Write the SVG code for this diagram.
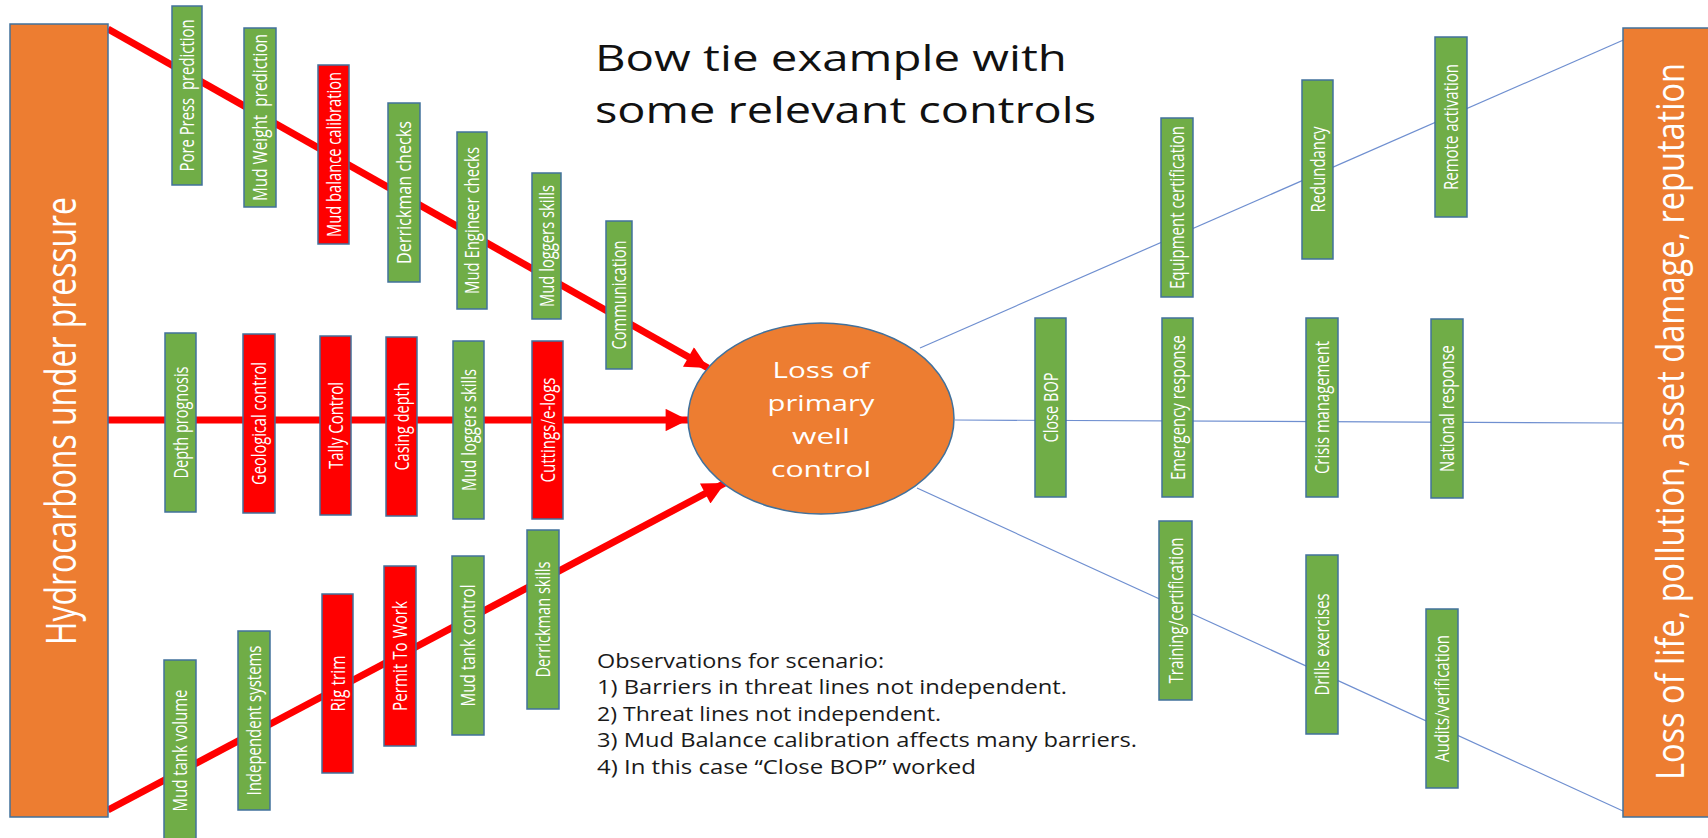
<svg xmlns="http://www.w3.org/2000/svg" width="1708" height="838" viewBox="0 0 1708 838">
  <defs>
    <style>
      .bg { fill: #ffffff; }
      .big { fill: #ED7D31; stroke: #41719C; stroke-width: 1.5; }
      .ctl-g { fill: #70AD47; stroke: #41719C; stroke-width: 1.5; }
      .ctl-r { fill: #FF0000; stroke: #41719C; stroke-width: 1.5; }
      .threat-line { stroke: #FF0000; stroke-width: 7; fill: none; }
      .conseq-line { stroke: #6F8FD0; stroke-width: 1.2; fill: none; }
      .lbl { font-family: "Open Sans", "Noto Sans", sans-serif; font-size: 15px; fill: #ffffff; }
      .hdr { font-family: "Open Sans", "Noto Sans", sans-serif; fill: #ffffff; }
      .title { font-family: "Open Sans", "Noto Sans", sans-serif; font-size: 36.5px; fill: #111111; }
      .note { font-family: "Open Sans", "Noto Sans", sans-serif; font-size: 19.7px; fill: #1a1a1a; }
      .evt { font-family: "Open Sans", "Noto Sans", sans-serif; font-size: 22.5px; fill: #ffffff; text-anchor: middle; }
    </style>
    <marker id="arrow" viewBox="0 0 10 10" refX="10" refY="5" markerWidth="3.8" markerHeight="3.2" orient="auto" markerUnits="strokeWidth">
      <path d="M0,0 L10,5 L0,10 Z" fill="#FF0000"/>
    </marker>
  </defs>

  <rect class="bg" x="0" y="0" width="1708" height="838"/>

  <!-- connectors: threat lines (red) and consequence lines (blue) -->
  <g id="connectors">
    <line class="threat-line" x1="108" y1="29" x2="708" y2="368" marker-end="url(#arrow)"/>
    <line class="threat-line" x1="108" y1="420" x2="688" y2="420" marker-end="url(#arrow)"/>
    <line class="threat-line" x1="108" y1="810" x2="725" y2="483" marker-end="url(#arrow)"/>
    <line class="conseq-line" x1="920" y1="348" x2="1628" y2="38"/>
    <line class="conseq-line" x1="955" y1="420" x2="1623" y2="423"/>
    <line class="conseq-line" x1="917" y1="488" x2="1623" y2="811"/>
  </g>

  <!-- hazard source -->
  <g id="hazard">
    <rect class="big" x="10" y="24" width="98" height="793"/>
    <text class="hdr" font-size="32.3" transform="translate(76,421) rotate(-90) scale(1,1.3)" x="-224" y="0" textLength="448" lengthAdjust="spacingAndGlyphs">Hydrocarbons under pressure</text>
  </g>

  <!-- consequence -->
  <g id="consequence">
    <rect class="big" x="1623" y="28" width="86" height="789"/>
    <text class="hdr" font-size="32.6" transform="translate(1684,421.5) rotate(-90) scale(1,1.16)" x="-358.5" y="0" textLength="717" lengthAdjust="spacingAndGlyphs">Loss of life, pollution, asset damage, reputation</text>
  </g>

  <!-- top event -->
  <g id="top-event">
    <ellipse class="big" cx="821" cy="418.5" rx="133" ry="95.5"/>
    <text class="evt" transform="translate(821,378) scale(1.32,1)" textLength="73.5" lengthAdjust="spacingAndGlyphs">Loss of</text>
    <text class="evt" transform="translate(821,411) scale(1.32,1)" textLength="81" lengthAdjust="spacingAndGlyphs">primary</text>
    <text class="evt" transform="translate(821,444) scale(1.32,1)" textLength="44" lengthAdjust="spacingAndGlyphs">well</text>
    <text class="evt" transform="translate(821,477) scale(1.32,1)" textLength="75.8" lengthAdjust="spacingAndGlyphs">control</text>
  </g>

  <!-- title -->
  <g id="title">
    <text class="title" transform="translate(595,71) scale(1.3,1)" textLength="363" lengthAdjust="spacingAndGlyphs">Bow tie example with</text>
    <text class="title" transform="translate(595,123) scale(1.3,1)" textLength="385.4" lengthAdjust="spacingAndGlyphs">some relevant controls</text>
  </g>

  <!-- threat line 1 barriers -->
  <g id="c-pore-press">
    <rect class="ctl-g" x="172" y="6" width="30" height="179"/>
    <text class="lbl" transform="translate(194,95.5) rotate(-90) scale(1,1.3)" x="-76" textLength="152" lengthAdjust="spacingAndGlyphs">Pore Press&#160; prediction</text>
  </g>
  <g id="c-mud-weight">
    <rect class="ctl-g" x="244" y="28" width="32" height="179"/>
    <text class="lbl" transform="translate(267,117.5) rotate(-90) scale(1,1.3)" x="-83.5" textLength="167" lengthAdjust="spacingAndGlyphs">Mud Weight&#160; prediction</text>
  </g>
  <g id="c-mud-balance">
    <rect class="ctl-r" x="318" y="65" width="31" height="179"/>
    <text class="lbl" transform="translate(340.5,154.5) rotate(-90) scale(1,1.3)" x="-82.5" textLength="165" lengthAdjust="spacingAndGlyphs">Mud balance calibration</text>
  </g>
  <g id="c-derrickman-checks">
    <rect class="ctl-g" x="388" y="103" width="32" height="179"/>
    <text class="lbl" transform="translate(411,192.5) rotate(-90) scale(1,1.3)" x="-71.5" textLength="143" lengthAdjust="spacingAndGlyphs">Derrickman checks</text>
  </g>
  <g id="c-mud-engineer">
    <rect class="ctl-g" x="457" y="132" width="30" height="177"/>
    <text class="lbl" transform="translate(479,220.5) rotate(-90) scale(1,1.3)" x="-73.5" textLength="147" lengthAdjust="spacingAndGlyphs">Mud Engineer checks</text>
  </g>
  <g id="c-mud-loggers-1">
    <rect class="ctl-g" x="532" y="173" width="29" height="146"/>
    <text class="lbl" transform="translate(553.5,246) rotate(-90) scale(1,1.3)" x="-61" textLength="122" lengthAdjust="spacingAndGlyphs">Mud loggers skills</text>
  </g>
  <g id="c-communication">
    <rect class="ctl-g" x="606" y="221" width="26" height="148"/>
    <text class="lbl" transform="translate(626,295) rotate(-90) scale(1,1.3)" x="-54.5" textLength="109" lengthAdjust="spacingAndGlyphs">Communication</text>
  </g>

  <!-- threat line 2 barriers -->
  <g id="c-depth-prognosis">
    <rect class="ctl-g" x="165" y="333" width="31" height="179"/>
    <text class="lbl" transform="translate(187.5,422.5) rotate(-90) scale(1,1.3)" x="-56" textLength="112" lengthAdjust="spacingAndGlyphs">Depth prognosis</text>
  </g>
  <g id="c-geological">
    <rect class="ctl-r" x="243" y="334" width="32" height="179"/>
    <text class="lbl" transform="translate(266,423.5) rotate(-90) scale(1,1.3)" x="-61.5" textLength="123" lengthAdjust="spacingAndGlyphs">Geological control</text>
  </g>
  <g id="c-tally">
    <rect class="ctl-r" x="320" y="336" width="31" height="179"/>
    <text class="lbl" transform="translate(342.5,425.5) rotate(-90) scale(1,1.3)" x="-43.5" textLength="87" lengthAdjust="spacingAndGlyphs">Tally Control</text>
  </g>
  <g id="c-casing">
    <rect class="ctl-r" x="386" y="337" width="31" height="179"/>
    <text class="lbl" transform="translate(408.5,426.5) rotate(-90) scale(1,1.3)" x="-44" textLength="88" lengthAdjust="spacingAndGlyphs">Casing depth</text>
  </g>
  <g id="c-mud-loggers-2">
    <rect class="ctl-g" x="453" y="341" width="31" height="178"/>
    <text class="lbl" transform="translate(475.5,430) rotate(-90) scale(1,1.3)" x="-61" textLength="122" lengthAdjust="spacingAndGlyphs">Mud loggers skills</text>
  </g>
  <g id="c-cuttings">
    <rect class="ctl-r" x="532" y="341" width="31" height="178"/>
    <text class="lbl" transform="translate(554.5,430) rotate(-90) scale(1,1.3)" x="-52.5" textLength="105" lengthAdjust="spacingAndGlyphs">Cuttings/e-logs</text>
  </g>

  <!-- threat line 3 barriers -->
  <g id="c-mud-tank-volume">
    <rect class="ctl-g" x="164" y="660" width="32" height="180"/>
    <text class="lbl" transform="translate(187,750.5) rotate(-90) scale(1,1.3)" x="-61" textLength="122" lengthAdjust="spacingAndGlyphs">Mud tank volume</text>
  </g>
  <g id="c-independent">
    <rect class="ctl-g" x="238" y="631" width="32" height="179"/>
    <text class="lbl" transform="translate(261,720.5) rotate(-90) scale(1,1.3)" x="-75" textLength="150" lengthAdjust="spacingAndGlyphs">Independent systems</text>
  </g>
  <g id="c-rig-trim">
    <rect class="ctl-r" x="322" y="594" width="31" height="179"/>
    <text class="lbl" transform="translate(344.5,683.5) rotate(-90) scale(1,1.3)" x="-28" textLength="56" lengthAdjust="spacingAndGlyphs">Rig trim</text>
  </g>
  <g id="c-permit">
    <rect class="ctl-r" x="384" y="566" width="32" height="180"/>
    <text class="lbl" transform="translate(407,656) rotate(-90) scale(1,1.3)" x="-55" textLength="110" lengthAdjust="spacingAndGlyphs">Permit To Work</text>
  </g>
  <g id="c-mud-tank-control">
    <rect class="ctl-g" x="452" y="556" width="32" height="179"/>
    <text class="lbl" transform="translate(475,645.5) rotate(-90) scale(1,1.3)" x="-61" textLength="122" lengthAdjust="spacingAndGlyphs">Mud tank control</text>
  </g>
  <g id="c-derrickman-skills">
    <rect class="ctl-g" x="527" y="530" width="32" height="179"/>
    <text class="lbl" transform="translate(550,619.5) rotate(-90) scale(1,1.3)" x="-58" textLength="116" lengthAdjust="spacingAndGlyphs">Derrickman skills</text>
  </g>

  <!-- recovery barriers, upper line -->
  <g id="r-equipment-cert">
    <rect class="ctl-g" x="1161" y="118" width="32" height="179"/>
    <text class="lbl" transform="translate(1184,207.5) rotate(-90) scale(1,1.3)" x="-81.5" textLength="163" lengthAdjust="spacingAndGlyphs">Equipment certification</text>
  </g>
  <g id="r-redundancy">
    <rect class="ctl-g" x="1302" y="80" width="31" height="179"/>
    <text class="lbl" transform="translate(1324.5,169.5) rotate(-90) scale(1,1.3)" x="-43" textLength="86" lengthAdjust="spacingAndGlyphs">Redundancy</text>
  </g>
  <g id="r-remote">
    <rect class="ctl-g" x="1435" y="37" width="32" height="180"/>
    <text class="lbl" transform="translate(1458,127) rotate(-90) scale(1,1.3)" x="-63" textLength="126" lengthAdjust="spacingAndGlyphs">Remote activation</text>
  </g>

  <!-- recovery barriers, middle line -->
  <g id="r-close-bop">
    <rect class="ctl-g" x="1035" y="318" width="31" height="179"/>
    <text class="lbl" transform="translate(1057.5,407.5) rotate(-90) scale(1,1.3)" x="-35" textLength="70" lengthAdjust="spacingAndGlyphs">Close BOP</text>
  </g>
  <g id="r-emergency">
    <rect class="ctl-g" x="1162" y="318" width="31" height="179"/>
    <text class="lbl" transform="translate(1184.5,407.5) rotate(-90) scale(1,1.3)" x="-72.5" textLength="145" lengthAdjust="spacingAndGlyphs">Emergency response</text>
  </g>
  <g id="r-crisis">
    <rect class="ctl-g" x="1306" y="318" width="32" height="179"/>
    <text class="lbl" transform="translate(1329,407.5) rotate(-90) scale(1,1.3)" x="-66.5" textLength="133" lengthAdjust="spacingAndGlyphs">Crisis management</text>
  </g>
  <g id="r-national">
    <rect class="ctl-g" x="1431" y="319" width="32" height="179"/>
    <text class="lbl" transform="translate(1454,408.5) rotate(-90) scale(1,1.3)" x="-63.5" textLength="127" lengthAdjust="spacingAndGlyphs">National response</text>
  </g>

  <!-- recovery barriers, lower line -->
  <g id="r-training">
    <rect class="ctl-g" x="1159" y="521" width="33" height="179"/>
    <text class="lbl" transform="translate(1182.5,610.5) rotate(-90) scale(1,1.3)" x="-73" textLength="146" lengthAdjust="spacingAndGlyphs">Training/certification</text>
  </g>
  <g id="r-drills">
    <rect class="ctl-g" x="1306" y="555" width="32" height="179"/>
    <text class="lbl" transform="translate(1329,644.5) rotate(-90) scale(1,1.3)" x="-51" textLength="102" lengthAdjust="spacingAndGlyphs">Drills exercises</text>
  </g>
  <g id="r-audits">
    <rect class="ctl-g" x="1426" y="609" width="32" height="179"/>
    <text class="lbl" transform="translate(1449,698.5) rotate(-90) scale(1,1.3)" x="-63.5" textLength="127" lengthAdjust="spacingAndGlyphs">Audits/verification</text>
  </g>

  <!-- notes -->
  <g id="observations">
    <text class="note" transform="translate(597,668) scale(1.2,1)" textLength="239.2" lengthAdjust="spacingAndGlyphs">Observations for scenario:</text>
    <text class="note" transform="translate(597,694.4) scale(1.2,1)" textLength="391.7" lengthAdjust="spacingAndGlyphs">1) Barriers in threat lines not independent.</text>
    <text class="note" transform="translate(597,720.8) scale(1.2,1)" textLength="286.7" lengthAdjust="spacingAndGlyphs">2) Threat lines not independent.</text>
    <text class="note" transform="translate(597,747.2) scale(1.2,1)" textLength="450" lengthAdjust="spacingAndGlyphs">3) Mud Balance calibration affects many barriers.</text>
    <text class="note" transform="translate(597,773.6) scale(1.2,1)" textLength="315.8" lengthAdjust="spacingAndGlyphs">4) In this case “Close BOP” worked</text>
  </g>
</svg>
